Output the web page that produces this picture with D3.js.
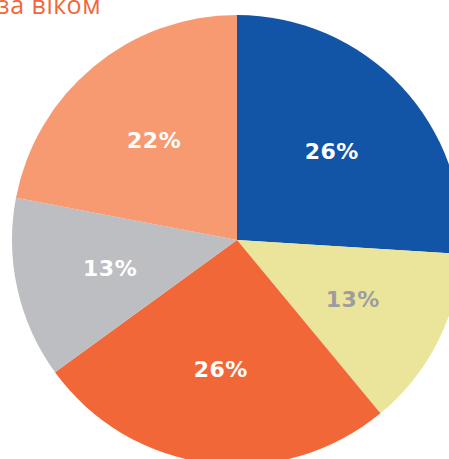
<!DOCTYPE html>
<html>
<head>
<meta charset="utf-8">
<script src="https://cdn.jsdelivr.net/npm/d3@7"></script>
<style>
  html, body { margin: 0; padding: 0; background: #fff; overflow: hidden; }
  svg { display: block; }
</style>
</head>
<body>
<script>
var width = 449,
    height = 459;

// data
var categories = ["a", "b", "c", "d", "e"];
var values = [26, 13, 26, 13, 22];
var labels = ["26%", "13%", "26%", "13%", "22%"];
var colors = ["#1254a5", "#ebe49b", "#f26737", "#bdbec2", "#f79a72"];
var labelColors = ["#fff", "#9d9d9f", "#fff", "#fff", "#fff"];

var svg = d3.select("body")
    .append("svg")
    .attr("width", width)
    .attr("height", height);

var cx = 237, cy = 240, radius = 225;

var pie = d3.pie()
    .sort(null)
    .value(function (d) { return d; });

var arc = d3.arc()
    .innerRadius(0)
    .outerRadius(radius);

var labelArc = d3.arc()
    .innerRadius(130)
    .outerRadius(130);

var g = svg.append("g")
    .attr("transform", "translate(" + cx + "," + cy + ")");

var arcs = pie(values);

g.selectAll("path")
    .data(arcs)
    .enter().append("path")
    .attr("d", arc)
    .style("fill", function (d, i) { return colors[i]; });

g.selectAll("text")
    .data(arcs)
    .enter().append("text")
    .attr("transform", function (d) { return "translate(" + labelArc.centroid(d) + ")"; })
    .attr("text-anchor", "middle")
    .attr("dy", "0.36em")
    .style("font-family", "'DejaVu Sans', sans-serif")
    .style("font-weight", "bold")
    .style("font-size", "22px")
    .style("letter-spacing", "0.5px")
    .style("fill", function (d, i) { return labelColors[i]; })
    .text(function (d, i) { return labels[i]; });

// title, cut off by the frame like in the source
svg.append("text")
    .attr("x", 101)
    .attr("y", 14)
    .attr("text-anchor", "end")
    .style("font-family", "'Open Sans', sans-serif")
    .style("font-size", "25px")
    .style("letter-spacing", "0.5px")
    .style("fill", "#f26737")
    .text("за віком");
</script>
</body>
</html>
